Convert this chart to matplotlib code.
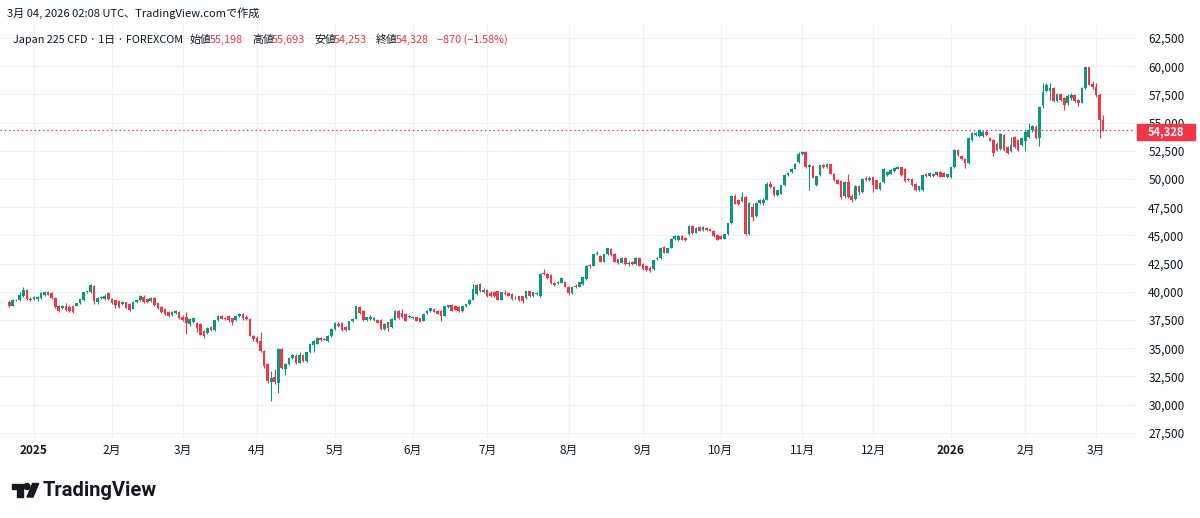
import numpy as np
import pandas as pd
import matplotlib
matplotlib.use("Agg")
import matplotlib.pyplot as plt
from matplotlib.patches import Polygon, Circle, Rectangle

plt.rcParams['font.family'] = ['Noto Sans CJK JP', 'DejaVu Sans']

# Japan 225 CFD, daily bars 2024-12-20 .. 2026-03-04
opens = [
    39120, 38770, 39300, 39260, 39600, 40150, 39400,
    39350, 39400, 39470, 39750, 39940, 39850, 39470, 38770, 38590, 38770, 38650, 38770, 38750, 38970, 39260, 39940, 39940, 40500, 39060, 39410, 39350, 39850,
    39350, 39260, 39180, 38880, 39060, 38900, 38500, 39060, 39260, 39560, 39350, 39180, 39410, 38970, 38680, 38470, 38240, 37940, 38090, 38240,
    37790, 37800, 37150, 37300, 37240, 37180, 36500, 36350, 36880, 36590, 37470, 37850, 37700, 37880, 37650, 37470, 37880, 38060, 37800, 37590, 36120,
    35910, 35600, 34740, 33560, 32000, 32470, 31890, 34940, 33200, 33600, 34150, 34350, 33700, 34400, 33850, 34650, 35320, 35410, 35910, 35820, 35620, 36060,
    36710, 37180, 37240, 36880, 36650, 37380, 37590, 38650, 38270, 37470, 37590, 37470, 37530, 37470, 36710, 37300, 36850, 37530, 38320, 38100, 38030, 37740,
    37650, 37740, 37650, 37440, 38120, 38320, 38470, 38320, 38320, 37880, 38620, 38820, 38710, 38620, 38320, 38710, 38910, 39290, 39790, 40680, 39950,
    40150, 39900, 39950, 40030, 39300, 39880, 39850, 39800, 39500, 39590, 39590, 39440, 40030, 39590, 39800, 39590, 41710, 41590, 41500, 40820, 40770, 40820, 40910,
    40470, 39850, 40550, 40440, 40680, 41120, 42350, 42300, 43320, 43180, 42680, 43320, 43760, 43320, 42880, 42590, 43030, 42450, 42680, 42440, 42970,
    42440, 42300, 42150, 42000, 42880, 43030, 43970, 43470, 43910, 44650, 44590, 44940, 44800, 45090, 45830, 45240, 45770, 45470, 45680, 45590, 45380, 45000,
    44940, 44710, 45090, 46060, 48530, 48120, 48030, 48410, 45090, 47500, 46700, 47880, 47850, 48150, 49600, 49300, 48560, 48710, 49440, 50320, 50620, 50910, 51500,
    52180, 52380, 51060, 51120, 49440, 50330, 51210, 51060, 51300, 50470, 49940, 49830, 48450, 49700, 48500, 48200, 49360, 48850, 50120, 49940,
    50180, 49880, 49150, 49700, 50330, 50470, 50710, 50910, 51060, 50910, 50030, 50030, 49590, 49060, 49000, 50470, 50240, 50470, 50330, 50620, 50530, 50180,
    50180, 51060, 52530, 52060, 51770, 51410, 53470, 53910, 53830, 53830, 54210, 53620, 53470, 53100, 52650, 53910, 52830, 52440, 53710, 53470, 53030,
    53410, 53710, 54300, 54650, 53620, 56600, 57780, 57800, 58100, 56890, 57540, 57200, 56700, 57200, 57480, 57000, 56750, 58080, 59910, 58450,
    58200, 57480, 55198,
]
highs = [
    39250, 39350, 39400, 40000, 40440, 40250, 39500,
    39600, 39650, 40000, 40050, 40050, 39950, 39550, 38850, 38850, 38980, 38820, 38850, 39000, 39400, 39950, 40100, 40730, 40600, 39500, 39650, 39800, 39950,
    39450, 39300, 39250, 39200, 39100, 38980, 39150, 39300, 39700, 39700, 39450, 39550, 39500, 39050, 38750, 38550, 38300, 38300, 38350, 38300,
    37900, 38240, 37650, 37750, 37300, 37250, 36600, 36850, 36950, 37500, 37950, 37950, 37800, 37950, 37700, 37900, 38100, 38150, 37900, 37700, 36200,
    36100, 36410, 34800, 33700, 33000, 33200, 35000, 34990, 33650, 34250, 34500, 34450, 34700, 34500, 34700, 35450, 35700, 35950, 36000, 35900, 36150, 36750,
    37300, 37300, 37300, 36950, 37400, 37650, 38750, 38750, 38350, 37800, 37900, 37750, 37600, 37600, 37200, 37350, 37650, 38400, 38400, 38450, 38100, 37950,
    37800, 37800, 37700, 38050, 38350, 38600, 38550, 38400, 38400, 38750, 38850, 38900, 38800, 38700, 38750, 38950, 39350, 40680, 40700, 40750, 40300,
    40250, 40100, 40050, 40100, 40000, 40200, 40000, 39900, 39650, 39650, 39650, 40100, 40100, 40000, 39950, 41650, 42000, 41650, 41550, 40900, 41000, 41350, 41000,
    40550, 40500, 40650, 40900, 41300, 42350, 42450, 43350, 43600, 43300, 43350, 43900, 43850, 43400, 42950, 43100, 43100, 42700, 42750, 43050, 43050,
    42550, 42400, 42250, 42850, 43100, 43950, 44050, 43900, 44780, 45000, 45000, 45050, 44900, 45900, 45900, 45750, 45850, 45800, 45750, 45650, 45450, 45100,
    45050, 45150, 46100, 48620, 48650, 48200, 48830, 48500, 47950, 47900, 47950, 48200, 48300, 49700, 49850, 49350, 49050, 49500, 50400, 50600, 51000, 51400, 52350,
    52500, 52450, 51300, 51200, 50300, 51250, 51300, 51420, 51350, 50550, 50000, 49900, 49800, 50470, 48700, 49450, 49450, 50100, 50250, 50250,
    50250, 49950, 49750, 51000, 50700, 50900, 51050, 51150, 51100, 50950, 50100, 50100, 49650, 49400, 50400, 50550, 50600, 50550, 50700, 50700, 50600, 50450,
    51100, 52650, 52650, 52150, 51850, 53700, 54150, 54150, 54400, 54300, 54300, 53700, 53550, 53300, 54050, 54000, 52900, 53700, 53800, 53550, 53700,
    54300, 54950, 54800, 54750, 56450, 58500, 58520, 58520, 58200, 57600, 57650, 57300, 57550, 57600, 57550, 57100, 58150, 59970, 59950, 58700,
    58520, 57600, 55693,
]
lows = [
    38650, 38700, 39150, 39200, 39550, 39300, 39200,
    39250, 39150, 39400, 39650, 39700, 39400, 38600, 38200, 38500, 38300, 38200, 38150, 38700, 38900, 39200, 39850, 39900, 38900, 38950, 39350, 39300, 39300,
    38900, 38550, 38550, 38800, 38550, 38300, 38450, 39000, 39200, 39050, 39050, 39100, 38750, 38500, 38150, 37950, 37800, 37850, 38000, 37600,
    37450, 36300, 37000, 37200, 36400, 36150, 35900, 36300, 36550, 36500, 37400, 37550, 37500, 37350, 37100, 37400, 37800, 37500, 37500, 36050, 35600,
    35450, 34650, 33270, 31900, 30330, 31800, 31060, 33200, 32600, 33500, 34050, 33600, 33650, 33800, 33800, 34600, 34700, 35350, 35650, 35700, 35550, 36000,
    36650, 36900, 36550, 36550, 36600, 37300, 37550, 38050, 37400, 37400, 37500, 37400, 37200, 36650, 36650, 36500, 36800, 37500, 37600, 37700, 37400, 37700,
    37550, 37400, 37300, 37400, 38050, 38250, 38200, 38000, 37450, 37850, 38550, 38300, 38350, 38250, 38250, 38650, 38850, 39250, 39700, 39950, 39850,
    39500, 39500, 39550, 39250, 39250, 39700, 39600, 39300, 39400, 39200, 39000, 39400, 39550, 39500, 39700, 39550, 41450, 41150, 40700, 40550, 40700, 40750, 40400,
    39750, 39800, 40300, 40400, 40600, 41050, 42150, 42250, 43250, 42600, 42600, 43250, 43200, 42600, 42500, 42550, 42400, 42300, 42350, 42400, 42250,
    41950, 41850, 41800, 41950, 42800, 42950, 43400, 43400, 43850, 44600, 44500, 44550, 44500, 45050, 45150, 45200, 45350, 45400, 45400, 45350, 44900, 44550,
    44650, 44650, 45050, 46000, 47750, 47700, 47950, 45000, 45000, 46300, 46600, 47800, 47700, 48100, 49200, 48500, 48450, 48650, 49400, 50250, 50550, 50850, 51450,
    52100, 51000, 49000, 50050, 49400, 50300, 51000, 51000, 50400, 49850, 49550, 48260, 48300, 48300, 48000, 48100, 48550, 48750, 49800, 49850,
    48850, 49100, 49000, 49650, 50250, 50400, 50650, 50850, 50250, 49750, 49800, 49400, 48950, 48900, 48950, 50200, 50200, 50200, 50300, 50150, 50150, 50100,
    50100, 51000, 52050, 51700, 50970, 51350, 53400, 53800, 53750, 53750, 53850, 53350, 52000, 52500, 52600, 52500, 52250, 52400, 52750, 52500, 52950,
    52440, 53650, 54200, 53550, 52890, 56300, 57700, 57040, 56800, 56800, 56950, 56150, 56600, 57000, 56800, 56500, 56700, 58000, 58300, 58000,
    57300, 53640, 54253,
]
closes = [
    38770, 39260, 39230, 39760, 40150, 39350, 39300,
    39530, 39560, 39850, 40000, 39760, 39470, 38680, 38300, 38770, 38400, 38300, 38200, 38970, 39350, 39940, 40060, 40590, 39200, 39410, 39560, 39650, 39350,
    38970, 38820, 38680, 39120, 38600, 38400, 39120, 39260, 39650, 39120, 39120, 39470, 38820, 38590, 38240, 38000, 37880, 38240, 38300, 37700,
    37500, 37200, 37550, 37650, 36800, 36200, 36060, 36800, 36590, 37470, 37880, 37600, 37550, 37470, 37300, 37880, 38060, 37680, 37600, 36120, 35830,
    35530, 34740, 33410, 32090, 32390, 32000, 34940, 33270, 33560, 34150, 34440, 33700, 34400, 33850, 34650, 35410, 35620, 35910, 35710, 35740, 36120, 36710,
    37240, 36940, 36590, 36590, 37380, 37590, 38710, 38120, 37470, 37760, 37760, 37680, 37240, 36710, 37150, 36770, 37590, 38320, 37650, 37740, 37440, 37880,
    37740, 37440, 37350, 38030, 38320, 38530, 38240, 38030, 37880, 38710, 38820, 38320, 38410, 38320, 38710, 38910, 39290, 40240, 40590, 40030, 40200,
    39600, 39590, 39650, 39300, 39940, 39800, 39650, 39350, 39560, 39260, 39150, 40030, 39590, 39940, 39900, 41590, 41590, 41210, 40770, 40620, 40910, 41210, 40470,
    39850, 40450, 40390, 40830, 41270, 42300, 42250, 43320, 43470, 42680, 43320, 43850, 43260, 42680, 42590, 43030, 42440, 42550, 42440, 42970, 42300,
    42000, 41910, 41850, 42800, 43030, 43910, 43470, 43850, 44710, 44940, 44940, 44590, 44590, 45830, 45180, 45680, 45380, 45770, 45470, 45380, 44940, 44590,
    44710, 45090, 46060, 48470, 47820, 47740, 48410, 45090, 47880, 46600, 47880, 48120, 48150, 49590, 49300, 48560, 49000, 49440, 50320, 50530, 50910, 51350, 52180,
    52380, 51060, 51210, 50120, 50230, 51210, 51060, 51300, 50470, 49880, 49590, 48410, 49700, 48410, 48120, 49360, 48850, 50030, 49880, 50120,
    49440, 49150, 49650, 50910, 50620, 50820, 51000, 51060, 50330, 49820, 49880, 49440, 49000, 49350, 50330, 50240, 50530, 50240, 50620, 50180, 50180, 50400,
    51060, 52590, 52150, 51770, 51410, 53620, 54060, 54060, 54350, 54210, 53910, 53410, 52300, 52590, 54000, 52590, 52300, 53030, 52830, 52590, 53620,
    54210, 54300, 54710, 53620, 56410, 57700, 58370, 58100, 56900, 57540, 57040, 56600, 57400, 57450, 56890, 56700, 58080, 59910, 58370, 58200,
    57480, 55198, 54328,
]

price_ticks = list(range(27500, 62501, 2500))

# trading days of the CFD (weekdays, no Dec 25 / Jan 1)
dates = pd.bdate_range("2024-12-20", "2026-03-04")
dates = dates[~(((dates.month == 12) & (dates.day == 25)) | ((dates.month == 1) & (dates.day == 1)))]
assert len(dates) == len(closes)

UP = '#089981'
DOWN = '#F23645'
TXT = '#131722'
GRID = '#eef1f5'

W, H = 1200, 518
fig = plt.figure(figsize=(W / 100, H / 100), dpi=100)
ax = fig.add_axes([0, 1 - 438 / H, 1135 / W, (438 - 25) / H])

x = np.arange(len(closes))
o = np.array(opens, dtype=float)
c = np.array(closes, dtype=float)
h = np.maximum(np.array(highs, dtype=float), np.maximum(o, c))
l = np.minimum(np.array(lows, dtype=float), np.minimum(o, c))
cols = np.where(c >= o, UP, DOWN)

ax.vlines(x, l, h, colors=cols, linewidth=0.8, zorder=3)
body_low = np.minimum(o, c)
body_h = np.maximum(np.abs(c - o), 40)
ax.bar(x, body_h, bottom=body_low, width=0.75, color=cols, linewidth=0, zorder=4)

# current price line
ax.axhline(closes[-1], color=DOWN, linewidth=0.9, linestyle=(0, (1.2, 2.2)), zorder=2)

ax.set_xlim(-2.6, 318.0)
ax.set_ylim(27040, 63652)

# month ticks
ym = dates.year * 12 + dates.month
starts = [i for i in range(1, len(dates)) if ym[i] != ym[i - 1]]
labels = [str(dates[i].year) if dates[i].month == 1 else f"{dates[i].month}月" for i in starts]
ax.set_xticks(starts)
ax.set_xticklabels(labels, fontsize=8.5, color=TXT)
for t in ax.get_xticklabels():
    if t.get_text().isdigit():
        t.set_fontweight('bold')

ax.yaxis.tick_right()
ax.set_yticks(price_ticks)
ax.set_yticklabels([f"{v:,}" for v in price_ticks], fontsize=8.5, color=TXT)
ax.tick_params(axis='both', length=0)
ax.tick_params(axis='y', pad=9.5)
ax.tick_params(axis='x', pad=4)

ax.grid(True, color=GRID, linewidth=0.8, zorder=0)
ax.set_axisbelow(True)
for s in ax.spines.values():
    s.set_visible(False)

# overlay in pixel coords for texts and logo
ov = fig.add_axes([0, 0, 1, 1], zorder=5)
ov.set_xlim(0, W)
ov.set_ylim(H, 0)
ov.axis('off')

ov.text(7, 13, "3月 04, 2026 02:08 UTC、TradingView.comで作成", fontsize=8, color=TXT,
        ha='left', va='center')

ov.text(13, 40, "Japan 225 CFD · 1日 · FOREXCOM", fontsize=7.8, color=TXT, ha='left', va='center')
legend_items = [(190, "始値", opens[-1]), (252, "高値", highs[-1]),
                (314, "安値", lows[-1]), (376, "終値", closes[-1])]
for lx, lab, val in legend_items:
    ov.text(lx, 40, lab, fontsize=7.8, color=TXT, ha='left', va='center')
    ov.text(lx + 20, 40, f"{val:,}", fontsize=7.8, color=DOWN, ha='left', va='center')
chg = closes[-1] - closes[-2]
pct = chg / closes[-2] * 100
ov.text(437, 40, f"−{abs(chg):,} (−{abs(pct):.2f}%)", fontsize=7.8, color=DOWN, ha='left', va='center')

# last price tag
ov.add_patch(Rectangle((1137, 124), 58, 15.5, color=DOWN, zorder=6))
ov.text(1166, 131.8, f"{closes[-1]:,}", fontsize=8, color='white', fontweight='bold',
        ha='center', va='center', zorder=7)

# TradingView logo
s = 0.75
lx0, ly0 = 12, 480.5
t_shape = [(14, 22), (7, 22), (7, 11), (0, 11), (0, 4), (14, 4)]
v_shape = [(28, 22), (20, 22), (27.5, 4), (35.5, 4)]
ov.add_patch(Polygon([(lx0 + px * s, ly0 + py * s) for px, py in t_shape], closed=True, color=TXT))
ov.add_patch(Polygon([(lx0 + px * s, ly0 + py * s) for px, py in v_shape], closed=True, color=TXT))
ov.add_patch(Circle((lx0 + 20 * s, ly0 + 8 * s), 4 * s, color=TXT))
ov.text(43, 490, "TradingView", fontsize=14.5, fontweight='bold', family='Roboto', color=TXT,
        ha='left', va='center')

fig.savefig("out.png", dpi=100)
